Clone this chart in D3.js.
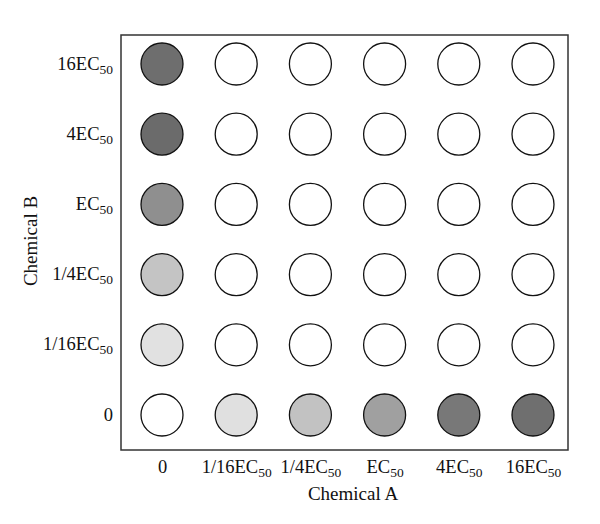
<!DOCTYPE html>
<html><head><meta charset="utf-8">
<script src="https://cdn.jsdelivr.net/npm/d3@7"></script>
<style>body{margin:0;background:#fff}</style>
</head><body>
<svg id="chart" width="600" height="524"></svg>
<script>
// Concentration levels (x: Chemical A, y: Chemical B)
const xLevels = ["0","1/16EC50","1/4EC50","EC50","4EC50","16EC50"];
const yLevels = ["0","1/16EC50","1/4EC50","EC50","4EC50","16EC50"];
// Effect (%) shown by shading: rows = Chemical B level (bottom to top), cols = Chemical A level
const effectRow0  = [0, 21, 41, 64, 91, 97];
const effectRow1  = [20, 0, 0, 0, 0, 0];
const effectRow2  = [40, 0, 0, 0, 0, 0];
const effectRow3  = [76, 0, 0, 0, 0, 0];
const effectRow4  = [100, 0, 0, 0, 0, 0];
const effectRow5  = [98, 0, 0, 0, 0, 0];
const effects = [effectRow0, effectRow1, effectRow2, effectRow3, effectRow4, effectRow5];

const cells = [];
effects.forEach((row, i) => row.forEach((v, j) => cells.push({x: xLevels[j], y: yLevels[i], v})));

const svg = d3.select("#chart");
const box = {left: 121, top: 35, right: 568, bottom: 450};
const x = d3.scalePoint().domain(xLevels).range([162, 533]);
const y = d3.scalePoint().domain(yLevels).range([415, 64]);
const color = d3.scaleLinear().domain([0, 100]).range(["#ffffff", "#6b6b6b"]);
const font = "'Liberation Serif', 'DejaVu Serif', serif";

svg.append("rect").attr("x", box.left).attr("y", box.top)
  .attr("width", box.right - box.left).attr("height", box.bottom - box.top)
  .attr("fill", "none").attr("stroke", "#333").attr("stroke-width", 1.5);

svg.selectAll("circle.c").data(cells).join("circle")
  .attr("class", "c")
  .attr("cx", d => x(d.x)).attr("cy", d => y(d.y)).attr("r", 21)
  .attr("fill", d => color(d.v)).attr("stroke", "#111").attr("stroke-width", 1.3);

function fmt(sel) {
  sel.each(function(d) {
    const t = d3.select(this);
    t.text(null);
    if (d.endsWith("EC50")) {
      t.append("tspan").text(d.slice(0, -2));
      t.append("tspan").text("50").attr("font-size", 13.5).attr("dy", 4);
    } else {
      t.text(d);
    }
  });
}

const xAxis = svg.append("g").attr("transform", `translate(0,${box.bottom})`)
  .call(d3.axisBottom(x).tickSize(0));
xAxis.select(".domain").remove();
xAxis.selectAll("text").attr("y", 23).attr("dy", 0)
  .attr("font-family", font).attr("font-size", 18.5).attr("fill", "#111").call(fmt);

const yAxis = svg.append("g").attr("transform", `translate(${box.left},0)`)
  .call(d3.axisLeft(y).tickSize(0));
yAxis.select(".domain").remove();
yAxis.selectAll("text").attr("x", -8).attr("dy", 5)
  .attr("font-family", font).attr("font-size", 18.5).attr("fill", "#111").call(fmt);

svg.append("text").attr("x", 353).attr("y", 500).attr("text-anchor", "middle")
  .attr("font-family", font).attr("font-size", 19).attr("fill", "#111").text("Chemical A");
svg.append("text").attr("transform", "translate(37,241) rotate(-90)").attr("text-anchor", "middle")
  .attr("font-family", font).attr("font-size", 19).attr("fill", "#111").text("Chemical B");
</script>
</body></html>
